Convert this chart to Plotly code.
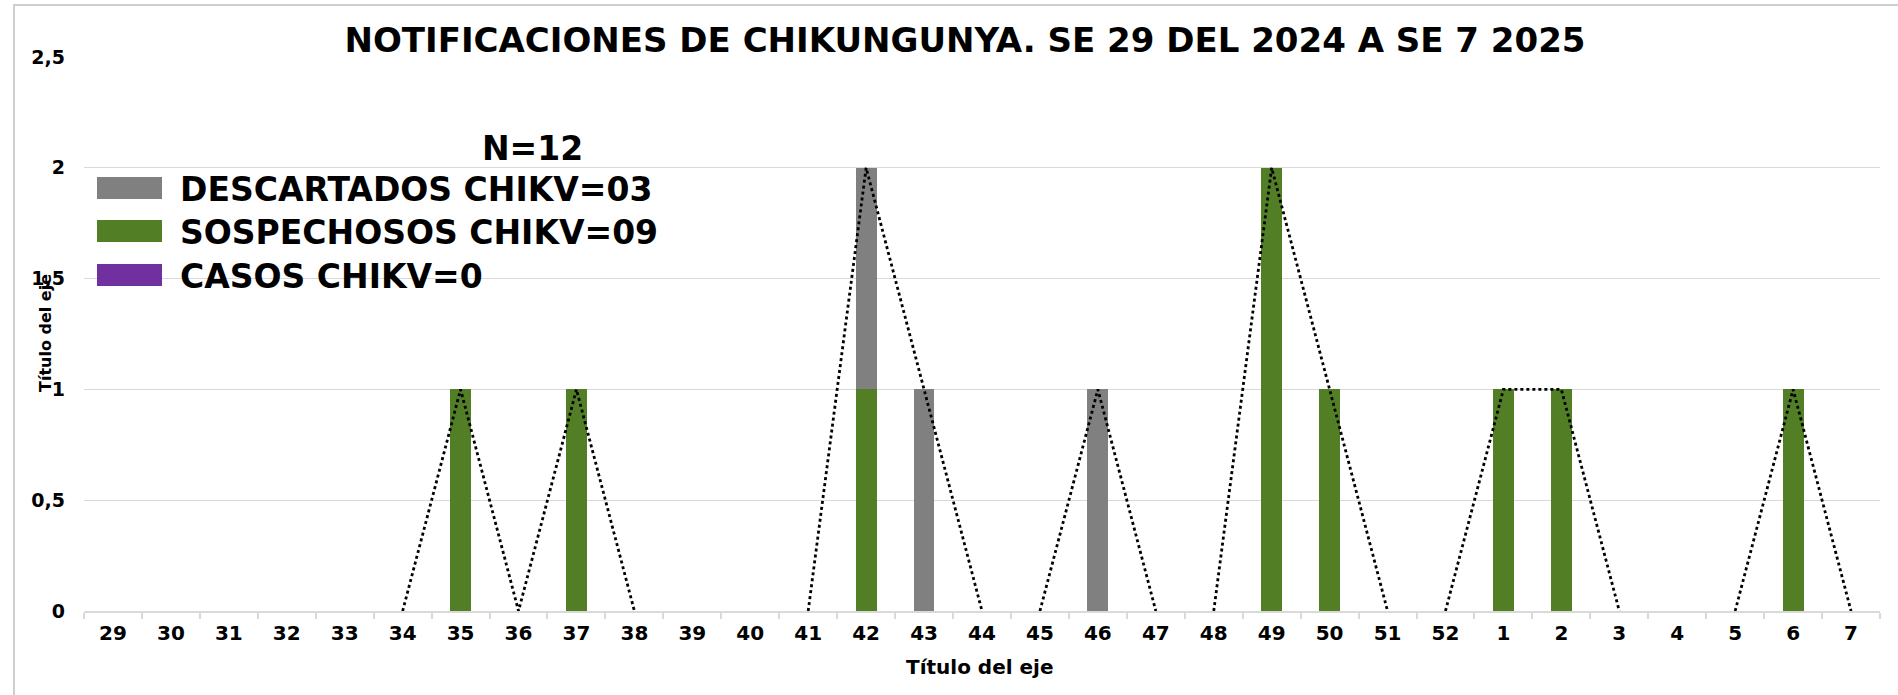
import plotly.graph_objects as go

# ---------------- data ----------------
weeks = [str(w) for w in range(29, 53)] + [str(w) for w in range(1, 8)]
sospechosos = [0, 0, 0, 0, 0, 0, 1, 0, 1, 0, 0, 0, 0, 1, 0, 0, 0, 0, 0, 0, 2, 1, 0, 0,
               1, 1, 0, 0, 0, 1, 0]
descartados = [0, 0, 0, 0, 0, 0, 0, 0, 0, 0, 0, 0, 0, 1, 1, 0, 0, 1, 0, 0, 0, 0, 0, 0,
               0, 0, 0, 0, 0, 0, 0]
casos = [0] * len(weeks)

series_names = ["DESCARTADOS CHIKV=03", "SOSPECHOSOS CHIKV=09", "CASOS CHIKV=0"]
series_colors = ["#808080", "#527F26", "#7030A0"]
total_label = "N=12"
title_text = "NOTIFICACIONES DE CHIKUNGUNYA. SE 29 DEL 2024 A SE 7 2025"
axis_title = "Título del eje"
y_tickvals = [0, 0.5, 1, 1.5, 2, 2.5]
y_ticktext = ["0", "0,5", "1", "1,5", "2", "2,5"]

# ---------------- layout geometry (pixels) ----------------
W, H = 1898, 695
L, R, T, B = 84, 1880, 57, 611   # plot area edges


def px(x):
    return (x - L) / (R - L)


def py(y):
    return (B - y) / (B - T)


FONT = "DejaVu Sans"

fig = go.Figure()

# stacked bars: green first (bottom), gray on top
fig.add_trace(go.Bar(x=weeks, y=sospechosos, name=series_names[1],
                     marker=dict(color=series_colors[1], line=dict(width=0))))
fig.add_trace(go.Bar(x=weeks, y=descartados, name=series_names[0],
                     marker=dict(color=series_colors[0], line=dict(width=0))))
fig.add_trace(go.Bar(x=weeks, y=casos, name=series_names[2],
                     marker=dict(color=series_colors[2], line=dict(width=0))))

# dotted trend line: segments drawn only where a neighbouring week is non-zero
totals = [a + b + c for a, b, c in zip(sospechosos, descartados, casos)]
lx, ly = [], []
for i in range(len(weeks) - 1):
    if totals[i] > 0 or totals[i + 1] > 0:
        if lx and lx[-1] == weeks[i]:
            lx.append(weeks[i + 1]); ly.append(totals[i + 1])
        else:
            if lx:
                lx.append(None); ly.append(None)
            lx += [weeks[i], weeks[i + 1]]; ly += [totals[i], totals[i + 1]]
fig.add_trace(go.Scatter(x=lx, y=ly, mode="lines", connectgaps=False,
                         line=dict(color="black", width=2.8, dash="dot"),
                         hoverinfo="skip", showlegend=False))

shapes = []
annotations = []

# outer light frame
shapes.append(dict(type="rect", xref="paper", yref="paper",
                   x0=px(14), x1=px(W + 20), y0=py(H + 20), y1=py(5),
                   line=dict(color="#cfcfcf", width=2), fillcolor="rgba(0,0,0,0)",
                   layer="above"))

# manual legend
annotations.append(dict(text=total_label, xref="paper", yref="paper",
                        x=px(532), y=py(148), xanchor="center", yanchor="middle",
                        showarrow=False, font=dict(family=FONT, size=33, color="black",
                                                   weight="bold")))
rows = [(177, 199), (220, 242), (264, 286)]
for (y0, y1), name, col in zip(rows, series_names, series_colors):
    shapes.append(dict(type="rect", xref="paper", yref="paper",
                       x0=px(97), x1=px(162), y0=py(y1), y1=py(y0),
                       fillcolor=col, line=dict(width=0), layer="above"))
    annotations.append(dict(text=name, xref="paper", yref="paper",
                            x=px(178), y=py((y0 + y1) / 2 + 1), xanchor="left",
                            yanchor="middle", showarrow=False,
                            font=dict(family=FONT, size=33, color="black", weight="bold")))

# axis titles
annotations.append(dict(text=axis_title, xref="paper", yref="paper",
                        x=px(980), y=py(667), xanchor="center", yanchor="middle",
                        showarrow=False,
                        font=dict(family=FONT, size=20, color="black", weight="bold")))
annotations.append(dict(text=axis_title, xref="paper", yref="paper",
                        x=px(45), y=py(333), xanchor="center", yanchor="middle",
                        textangle=-90, showarrow=False,
                        font=dict(family=FONT, size=16, color="black", weight="bold")))

fig.update_layout(
    width=W, height=H,
    margin=dict(l=L, r=W - R, t=T, b=H - B, pad=0),
    paper_bgcolor="white", plot_bgcolor="white",
    barmode="stack", bargap=0.64,
    showlegend=False,
    title=dict(text=title_text, x=965 / W, y=1 - 40 / H, xanchor="center",
               yanchor="middle", xref="container",
               font=dict(family=FONT, size=34, color="black", weight="bold")),
    xaxis=dict(type="category", categoryorder="array", categoryarray=weeks,
               range=[-0.5, len(weeks) - 0.5], showgrid=False,
               showline=True, linecolor="#d9d9d9", linewidth=1.5,
               ticks="outside", tickson="boundaries", ticklen=6,
               tickcolor="#d9d9d9", tickwidth=1.5,
               tickfont=dict(family=FONT, size=20, color="black", weight="bold"),
               ticklabelstandoff=3, fixedrange=True),
    yaxis=dict(range=[0, 2.5], tickvals=y_tickvals, ticktext=y_ticktext,
               showgrid=True, gridcolor="#d9d9d9", gridwidth=1.3,
               zeroline=False, showline=False, ticks="",
               tickfont=dict(family=FONT, size=19, color="black", weight="bold"),
               ticklabelstandoff=18, fixedrange=True),
    shapes=shapes, annotations=annotations,
)

fig.write_html("out.html", config={"displayModeBar": False},
               post_script="document.body.style.margin='0';")
